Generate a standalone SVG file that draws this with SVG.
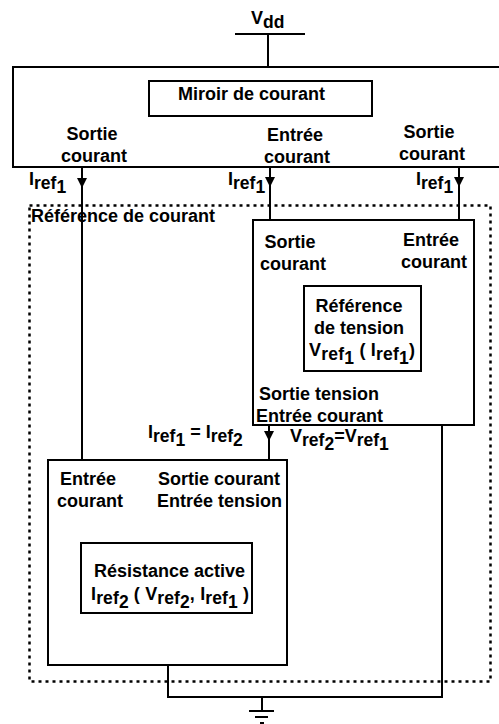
<svg xmlns="http://www.w3.org/2000/svg" width="499" height="724" viewBox="0 0 499 724">
<style>
text{font-family:"Liberation Sans",Arial,sans-serif;font-weight:700;font-size:18px;fill:#000}
.m{text-anchor:middle}
.s{font-size:17.500px}
.box{fill:none;stroke:#000;stroke-width:2}
.w{fill:none;stroke:#000;stroke-width:2}
.h{fill:#000;stroke:none}
</style>
<defs><path id="ah" class="h" d="M-5,-5H5L0,5Z"/></defs>
<rect width="499" height="724" fill="#fff"/>
<g id="connectors">
<path class="w" d="M235,34H305M268,34V67"/>
<path class="w" d="M82,167V460M270,167V220M459,167V220M269,425V460M442,425V697H168V665M262,697V711M249,711H274M255,717H268M260,723H264"/>
<use href="#ah" x="82" y="183"/>
<use href="#ah" x="270" y="182"/>
<use href="#ah" x="459" y="182"/>
<use href="#ah" x="269" y="436"/>
</g>
<g id="reference-courant">
<rect x="29.500" y="205.500" width="461" height="476" fill="none" stroke="#000" stroke-width="2.500" stroke-dasharray="3 4"/>
<text x="31" y="222">Référence de courant</text>
</g>
<g id="miroir">
<rect class="box" x="13" y="67" width="500" height="100"/>
<rect class="box" x="149" y="81" width="223" height="35"/>
<text class="m" x="251.500" y="100">Miroir de courant</text>
<text class="m" x="92" y="140">Sortie</text>
<text class="m" x="94" y="162">courant</text>
<text class="m" x="295" y="141">Entrée</text>
<text class="m" x="297" y="163">courant</text>
<text class="m" x="429" y="138">Sortie</text>
<text class="m" x="432" y="160">courant</text>
</g>
<g id="vdd"><text x="251" y="24">V<tspan class="s" dy="4">dd</tspan></text></g>
<g id="labels">
<text x="29" y="185">I<tspan class="s" dy="4">ref</tspan><tspan class="s" dy="4">1</tspan></text>
<text x="228" y="185">I<tspan class="s" dy="4">ref</tspan><tspan class="s" dy="4">1</tspan></text>
<text x="416" y="185">I<tspan class="s" dy="4">ref</tspan><tspan class="s" dy="4">1</tspan></text>
<text x="148" y="438">I<tspan class="s" dy="4">ref</tspan><tspan class="s" dy="4">1</tspan><tspan dy="-8"> = I</tspan><tspan class="s" dy="4">ref</tspan><tspan class="s" dy="4">2</tspan></text>
<text x="290" y="442">V<tspan class="s" dy="4">ref</tspan><tspan class="s" dy="4">2</tspan><tspan dy="-8">=V</tspan><tspan class="s" dy="4">ref</tspan><tspan class="s" dy="4">1</tspan></text>
</g>
<g id="ref-tension">
<rect class="box" x="253" y="220" width="221" height="205"/>
<rect class="box" x="304" y="286" width="117" height="85"/>
<text class="m" x="290" y="248">Sortie</text>
<text class="m" x="293" y="270">courant</text>
<text class="m" x="431" y="246">Entrée</text>
<text class="m" x="434" y="268">courant</text>
<text class="m" x="359" y="312">Référence</text>
<text class="m" x="359" y="334">de tension</text>
<text x="309" y="356" textLength="106">V<tspan class="s" dy="4">ref</tspan><tspan class="s" dy="4">1</tspan><tspan dy="-8"> ( I</tspan><tspan class="s" dy="4">ref</tspan><tspan class="s" dy="4">1</tspan><tspan dy="-8">)</tspan></text>
<text x="259" y="400">Sortie tension</text>
<text x="256" y="422">Entrée courant</text>
</g>
<g id="resistance">
<rect class="box" x="48" y="460" width="239" height="205"/>
<rect class="box" x="81" y="543" width="171" height="70"/>
<text class="m" x="88" y="485">Entrée</text>
<text class="m" x="90" y="507">courant</text>
<text x="158" y="485">Sortie courant</text>
<text x="157" y="507">Entrée tension</text>
<text x="94" y="577">Résistance active</text>
<text x="91" y="600" textLength="158">I<tspan class="s" dy="4">ref</tspan><tspan class="s" dy="4">2</tspan><tspan dy="-8"> ( V</tspan><tspan class="s" dy="4">ref</tspan><tspan class="s" dy="4">2</tspan><tspan dy="-8">, I</tspan><tspan class="s" dy="4">ref</tspan><tspan class="s" dy="4">1</tspan><tspan dy="-8"> )</tspan></text>
</g>
</svg>
